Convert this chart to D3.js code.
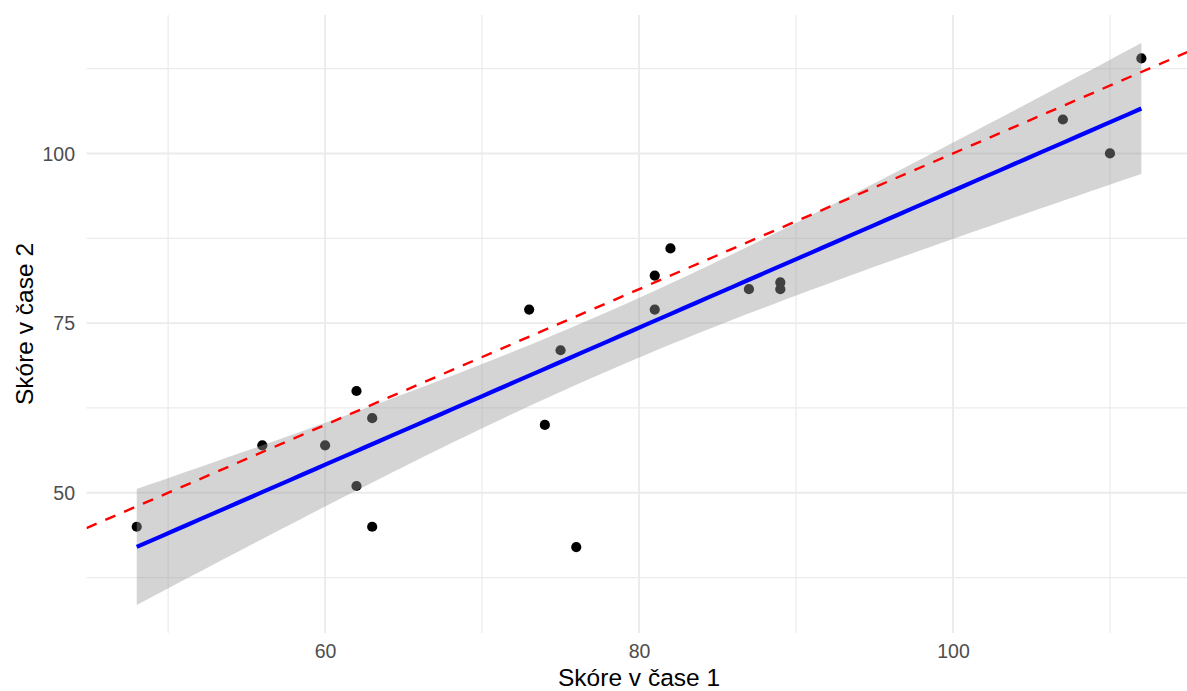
<!DOCTYPE html>
<html>
<head>
<meta charset="utf-8">
<script src="https://cdn.jsdelivr.net/npm/d3@7"></script>
<style>
  html, body { margin: 0; padding: 0; background: #ffffff; }
  svg { display: block; font-family: "Liberation Sans", Arial, Helvetica, sans-serif; }
</style>
</head>
<body>
<svg id="chart" width="1187" height="691"></svg>
<script>
// ---- data ----
const score1 = [48, 56, 60, 62, 62, 63, 63, 73, 75, 74, 76, 81, 82, 81, 87, 89, 89, 107, 110, 112];
const score2 = [45, 57, 57, 65, 51, 61, 45, 77, 71, 60, 42, 82, 86, 77, 80, 81, 80, 105, 100, 114];
const xMajorTicks = [60, 80, 100];
const xMinorTicks = [50, 70, 90, 110];
const yMajorTicks = [50, 75, 100];
const yMinorTicks = [37.5, 62.5, 87.5, 112.5];
const xTitle = "Skóre v čase 1";
const yTitle = "Skóre v čase 2";

// ---- linear model + 95% CI (as geom_smooth(method = "lm")) ----
const n = score1.length;
const mx = d3.mean(score1), my = d3.mean(score2);
let sxx = 0, sxy = 0;
for (let i = 0; i < n; i++) { sxx += (score1[i]-mx)**2; sxy += (score1[i]-mx)*(score2[i]-my); }
const slope = sxy / sxx, intercept = my - slope * mx;
let sse = 0;
for (let i = 0; i < n; i++) { const r = score2[i] - (intercept + slope*score1[i]); sse += r*r; }
const sigma = Math.sqrt(sse / (n - 2));
const tq = 2.100922; // qt(0.975, 18)
const xMin = d3.min(score1), xMax = d3.max(score1);
const fit = d3.range(80).map(i => {
  const xv = xMin + (xMax - xMin) * i / 79;
  const yv = intercept + slope * xv;
  const se = sigma * Math.sqrt(1/n + (xv-mx)**2 / sxx);
  return { x: xv, y: yv, lo: yv - tq*se, hi: yv + tq*se };
});

// ---- scales (ggplot 5% expansion) ----
const xr = xMax - xMin;
const xDom = [xMin - 0.05*xr, xMax + 0.05*xr];
const yLo = Math.min(d3.min(score2), d3.min(fit, d => d.lo));
const yHi = Math.max(d3.max(score2), d3.max(fit, d => d.hi));
const yr = yHi - yLo;
const yDom = [yLo - 0.05*yr, yHi + 0.05*yr];

const pLeft = 86.5, pRight = 1191.6, pTop = 15, pBottom = 633;
const x = d3.scaleLinear().domain(xDom).range([pLeft, pRight]);
const y = d3.scaleLinear().domain(yDom).range([pBottom, pTop]);

const svg = d3.select("#chart");
svg.append("defs").append("clipPath").attr("id", "clip")
  .append("rect").attr("x", pLeft).attr("y", pTop).attr("width", pRight-pLeft).attr("height", pBottom-pTop);

// grid
const grid = svg.append("g");
grid.selectAll(".vmin").data(xMinorTicks).join("line")
  .attr("x1", d => x(d)).attr("x2", d => x(d)).attr("y1", pTop).attr("y2", pBottom)
  .attr("stroke", "#ebebeb").attr("stroke-width", 1.2);
grid.selectAll(".hmin").data(yMinorTicks).join("line")
  .attr("y1", d => y(d)).attr("y2", d => y(d)).attr("x1", pLeft).attr("x2", pRight)
  .attr("stroke", "#ebebeb").attr("stroke-width", 1.2);
grid.selectAll(".vmaj").data(xMajorTicks).join("line")
  .attr("x1", d => x(d)).attr("x2", d => x(d)).attr("y1", pTop).attr("y2", pBottom)
  .attr("stroke", "#ebebeb").attr("stroke-width", 1.9);
grid.selectAll(".hmaj").data(yMajorTicks).join("line")
  .attr("y1", d => y(d)).attr("y2", d => y(d)).attr("x1", pLeft).attr("x2", pRight)
  .attr("stroke", "#ebebeb").attr("stroke-width", 1.9);

const panel = svg.append("g").attr("clip-path", "url(#clip)");

// points
panel.selectAll("circle").data(d3.zip(score1, score2)).join("circle")
  .attr("cx", d => x(d[0])).attr("cy", d => y(d[1])).attr("r", 5.1)
  .attr("fill", "#000000");

// CI ribbon
panel.append("path").datum(fit)
  .attr("d", d3.area().x(d => x(d.x)).y0(d => y(d.lo)).y1(d => y(d.hi)))
  .attr("fill", "#999999").attr("fill-opacity", 0.42);

// regression line
panel.append("path").datum(fit)
  .attr("d", d3.line().x(d => x(d.x)).y(d => y(d.y)))
  .attr("fill", "none").attr("stroke", "#0000ff").attr("stroke-width", 4.2);

// identity line y = x
panel.append("line")
  .attr("x1", x(xDom[0])).attr("y1", y(xDom[0]))
  .attr("x2", x(xDom[1])).attr("y2", y(xDom[1]))
  .attr("stroke", "#ff0000").attr("stroke-width", 2.4).attr("stroke-dasharray", "11,9.5");

// axes labels
const xAxis = d3.axisBottom(x).tickValues(xMajorTicks).tickSize(0).tickPadding(0);
const gx = svg.append("g").attr("transform", `translate(0,${pBottom})`).call(xAxis);
gx.select(".domain").remove();
gx.selectAll("text").attr("y", 11.5).attr("dy", "0.71em")
  .attr("font-size", 19.5).attr("fill", "#4d4d4d").attr("font-family", "Liberation Sans, Arial, sans-serif");

const yAxis = d3.axisLeft(y).tickValues(yMajorTicks).tickSize(0).tickPadding(0);
const gy = svg.append("g").attr("transform", `translate(${pLeft},0)`).call(yAxis);
gy.select(".domain").remove();
gy.selectAll("text").attr("x", -11.5).attr("dy", "0.35em")
  .attr("font-size", 19.5).attr("fill", "#4d4d4d").attr("font-family", "Liberation Sans, Arial, sans-serif");

svg.append("text").attr("x", (pLeft + pRight) / 2).attr("y", 685.5)
  .attr("text-anchor", "middle").attr("font-size", 24.5).attr("fill", "#000")
  .text(xTitle);
svg.append("text").attr("transform", `translate(33,${(pTop + pBottom) / 2}) rotate(-90)`)
  .attr("text-anchor", "middle").attr("font-size", 24.5).attr("fill", "#000")
  .text(yTitle);
</script>
</body>
</html>
